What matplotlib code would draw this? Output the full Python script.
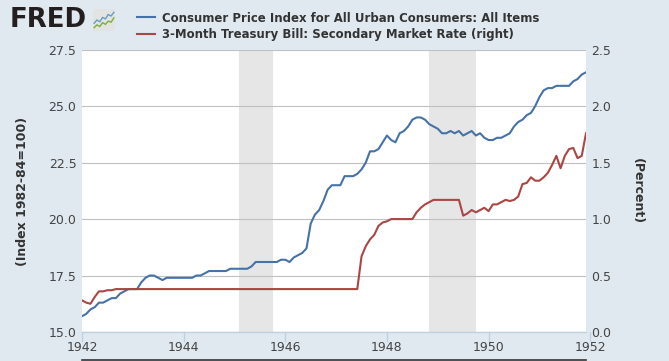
import matplotlib
matplotlib.use("Agg")
import matplotlib.pyplot as plt
import numpy as np
from matplotlib.lines import Line2D

# monthly data, Jan 1942 .. Dec 1951
cpi = [15.7, 15.8, 16.0, 16.1, 16.3, 16.3, 16.4, 16.5, 16.5, 16.7, 16.8, 16.9,
       16.9, 16.9, 17.2, 17.4, 17.5, 17.5, 17.4, 17.3, 17.4, 17.4, 17.4, 17.4,
       17.4, 17.4, 17.4, 17.5, 17.5, 17.6, 17.7, 17.7, 17.7, 17.7, 17.7, 17.8,
       17.8, 17.8, 17.8, 17.8, 17.9, 18.1, 18.1, 18.1, 18.1, 18.1, 18.1, 18.2,
       18.2, 18.1, 18.3, 18.4, 18.5, 18.7, 19.8, 20.2, 20.4, 20.8, 21.3, 21.5,
       21.5, 21.5, 21.9, 21.9, 21.9, 22.0, 22.2, 22.5, 23.0, 23.0, 23.1, 23.4,
       23.7, 23.5, 23.4, 23.8, 23.9, 24.1, 24.4, 24.5, 24.5, 24.4, 24.2, 24.1,
       24.0, 23.8, 23.8, 23.9, 23.8, 23.9, 23.7, 23.8, 23.9, 23.7, 23.8, 23.6,
       23.5, 23.5, 23.6, 23.6, 23.7, 23.8, 24.1, 24.3, 24.4, 24.6, 24.7, 25.0,
       25.4, 25.7, 25.8, 25.8, 25.9, 25.9, 25.9, 25.9, 26.1, 26.2, 26.4, 26.5]

tbill = ([0.28, 0.26, 0.25, 0.31, 0.36, 0.36, 0.37, 0.37, 0.38, 0.38, 0.38, 0.38]
         + [0.38] * 48
         + [0.38, 0.38, 0.38, 0.38, 0.38, 0.38, 0.67, 0.76, 0.82, 0.86, 0.94, 0.97]
         + [0.98, 1.00, 1.00, 1.00, 1.00, 1.00, 1.00, 1.06, 1.10, 1.13, 1.15, 1.17]
         + [1.17, 1.17, 1.17, 1.17, 1.17, 1.17, 1.03, 1.05, 1.08, 1.06, 1.08, 1.10]
         + [1.07, 1.13, 1.13, 1.15, 1.17, 1.16, 1.17, 1.20, 1.31, 1.32, 1.37, 1.34]
         + [1.34, 1.37, 1.41, 1.48, 1.56, 1.45, 1.56, 1.62, 1.63, 1.54, 1.56, 1.76])

dates = 1942 + np.arange(len(cpi)) / 12.0

recessions = [(1945 + 1 / 12, 1945 + 9 / 12), (1948 + 10 / 12, 1949 + 9 / 12)]
year_ticks = [1942, 1944, 1946, 1948, 1950, 1952]
left_ticks = [15.0, 17.5, 20.0, 22.5, 25.0, 27.5]
right_ticks = [0.0, 0.5, 1.0, 1.5, 2.0, 2.5]

labels = ["Consumer Price Index for All Urban Consumers: All Items",
          "3-Month Treasury Bill: Secondary Market Rate (right)"]

# small logo icon squiggles
icon_blue = [0.35, 0.5, 0.42, 0.62, 0.55, 0.75, 0.68, 0.85]
icon_green = [0.15, 0.28, 0.2, 0.38, 0.3, 0.45, 0.4, 0.6]

bg = "#E1E9F0"
blue = "#4572A7"
red = "#AA4643"
txt = "#333333"

fig = plt.figure(figsize=(6.69, 3.61), dpi=100, facecolor=bg)
ax = fig.add_axes([82 / 669, 1 - 332 / 361, 504 / 669, 282.3 / 361])
ax.set_facecolor("white")

for start, end in recessions:
    ax.axvspan(start, end, color="#E6E6E6", lw=0, zorder=0)

ax.plot(dates, cpi, color=blue, lw=1.5, zorder=3)
ax.set_xlim(dates[0], dates[-1])
ax.set_ylim(15, 27.5)
ax.set_yticks(left_ticks)
ax.set_yticklabels([f"{v:.1f}" for v in left_ticks])
ax.grid(axis="y", color="#C0C0C0", lw=0.8, zorder=1)
ax.set_axisbelow(True)

ax2 = ax.twinx()
ax2.plot(dates, tbill, color=red, lw=1.5, zorder=3)
ax2.set_ylim(0, 2.5)
ax2.set_yticks(right_ticks)
ax2.set_yticklabels([f"{v:.1f}" for v in right_ticks])

for a in (ax, ax2):
    for s in ("top", "left", "right", "bottom"):
        a.spines[s].set_visible(False)
    a.tick_params(axis="y", length=0, pad=4, labelsize=9, labelcolor="#444444")

ax.spines["bottom"].set_visible(True)
ax.spines["bottom"].set_color("#C0D0E0")
ax.spines["bottom"].set_linewidth(1)

# x ticks (1952 sits just past the last month)
ax.set_xticks([])
for yr in year_ticks:
    ax.plot([yr, yr], [0, -9 / 282.3], transform=ax.get_xaxis_transform(),
            color="#C0D0E0", lw=1, clip_on=False)
    ax.text(yr, -15.5 / 282.3, str(yr), transform=ax.get_xaxis_transform(),
            ha="center", va="center", fontsize=9, color="#444444")

fig.text(23 / 669, 1 - 191 / 361, "(Index 1982-84=100)", rotation=90,
         ha="center", va="center", fontsize=9, fontweight="bold", color=txt)
fig.text(637 / 669, 1 - 191 / 361, "(Percent)", rotation=270,
         ha="center", va="center", fontsize=9, fontweight="bold", color=txt)

# header: logo + legend
fig.text(10 / 669, 1 - 20 / 361, "FRED", fontsize=18.7, fontweight="bold",
         color="#231F20", ha="left", va="center")
ia = fig.add_axes([93 / 669, 1 - 31 / 361, 22 / 669, 22 / 361])
ia.set_facecolor("#E2E4E4")
ia.plot(np.linspace(0.05, 0.95, len(icon_blue)), icon_blue, color="#6A9BC3", lw=1.0)
ia.plot(np.linspace(0.05, 0.95, len(icon_green)), icon_green, color="#7DAF3A", lw=1.0)
ia.set_xlim(0, 1)
ia.set_ylim(0, 1)
ia.set_xticks([])
ia.set_yticks([])
for s in ia.spines.values():
    s.set_visible(False)

handles = [Line2D([], [], color=blue, lw=1.5), Line2D([], [], color=red, lw=1.5)]
fig.legend(handles, labels, loc="upper left", bbox_to_anchor=(137 / 669, 1 - 12 / 361),
           frameon=False, handlelength=1.4, handletextpad=0.5, labelspacing=0.25,
           borderpad=0, borderaxespad=0,
           prop={"size": 9.4, "weight": "bold", "stretch": "condensed"},
           labelcolor=txt)

# navigator edge at the very bottom
fig.add_artist(Line2D([82 / 669, 586 / 669], [1 / 361, 1 / 361], color="#333333", lw=1.2))

fig.savefig("out.png", dpi=100, facecolor=bg)
